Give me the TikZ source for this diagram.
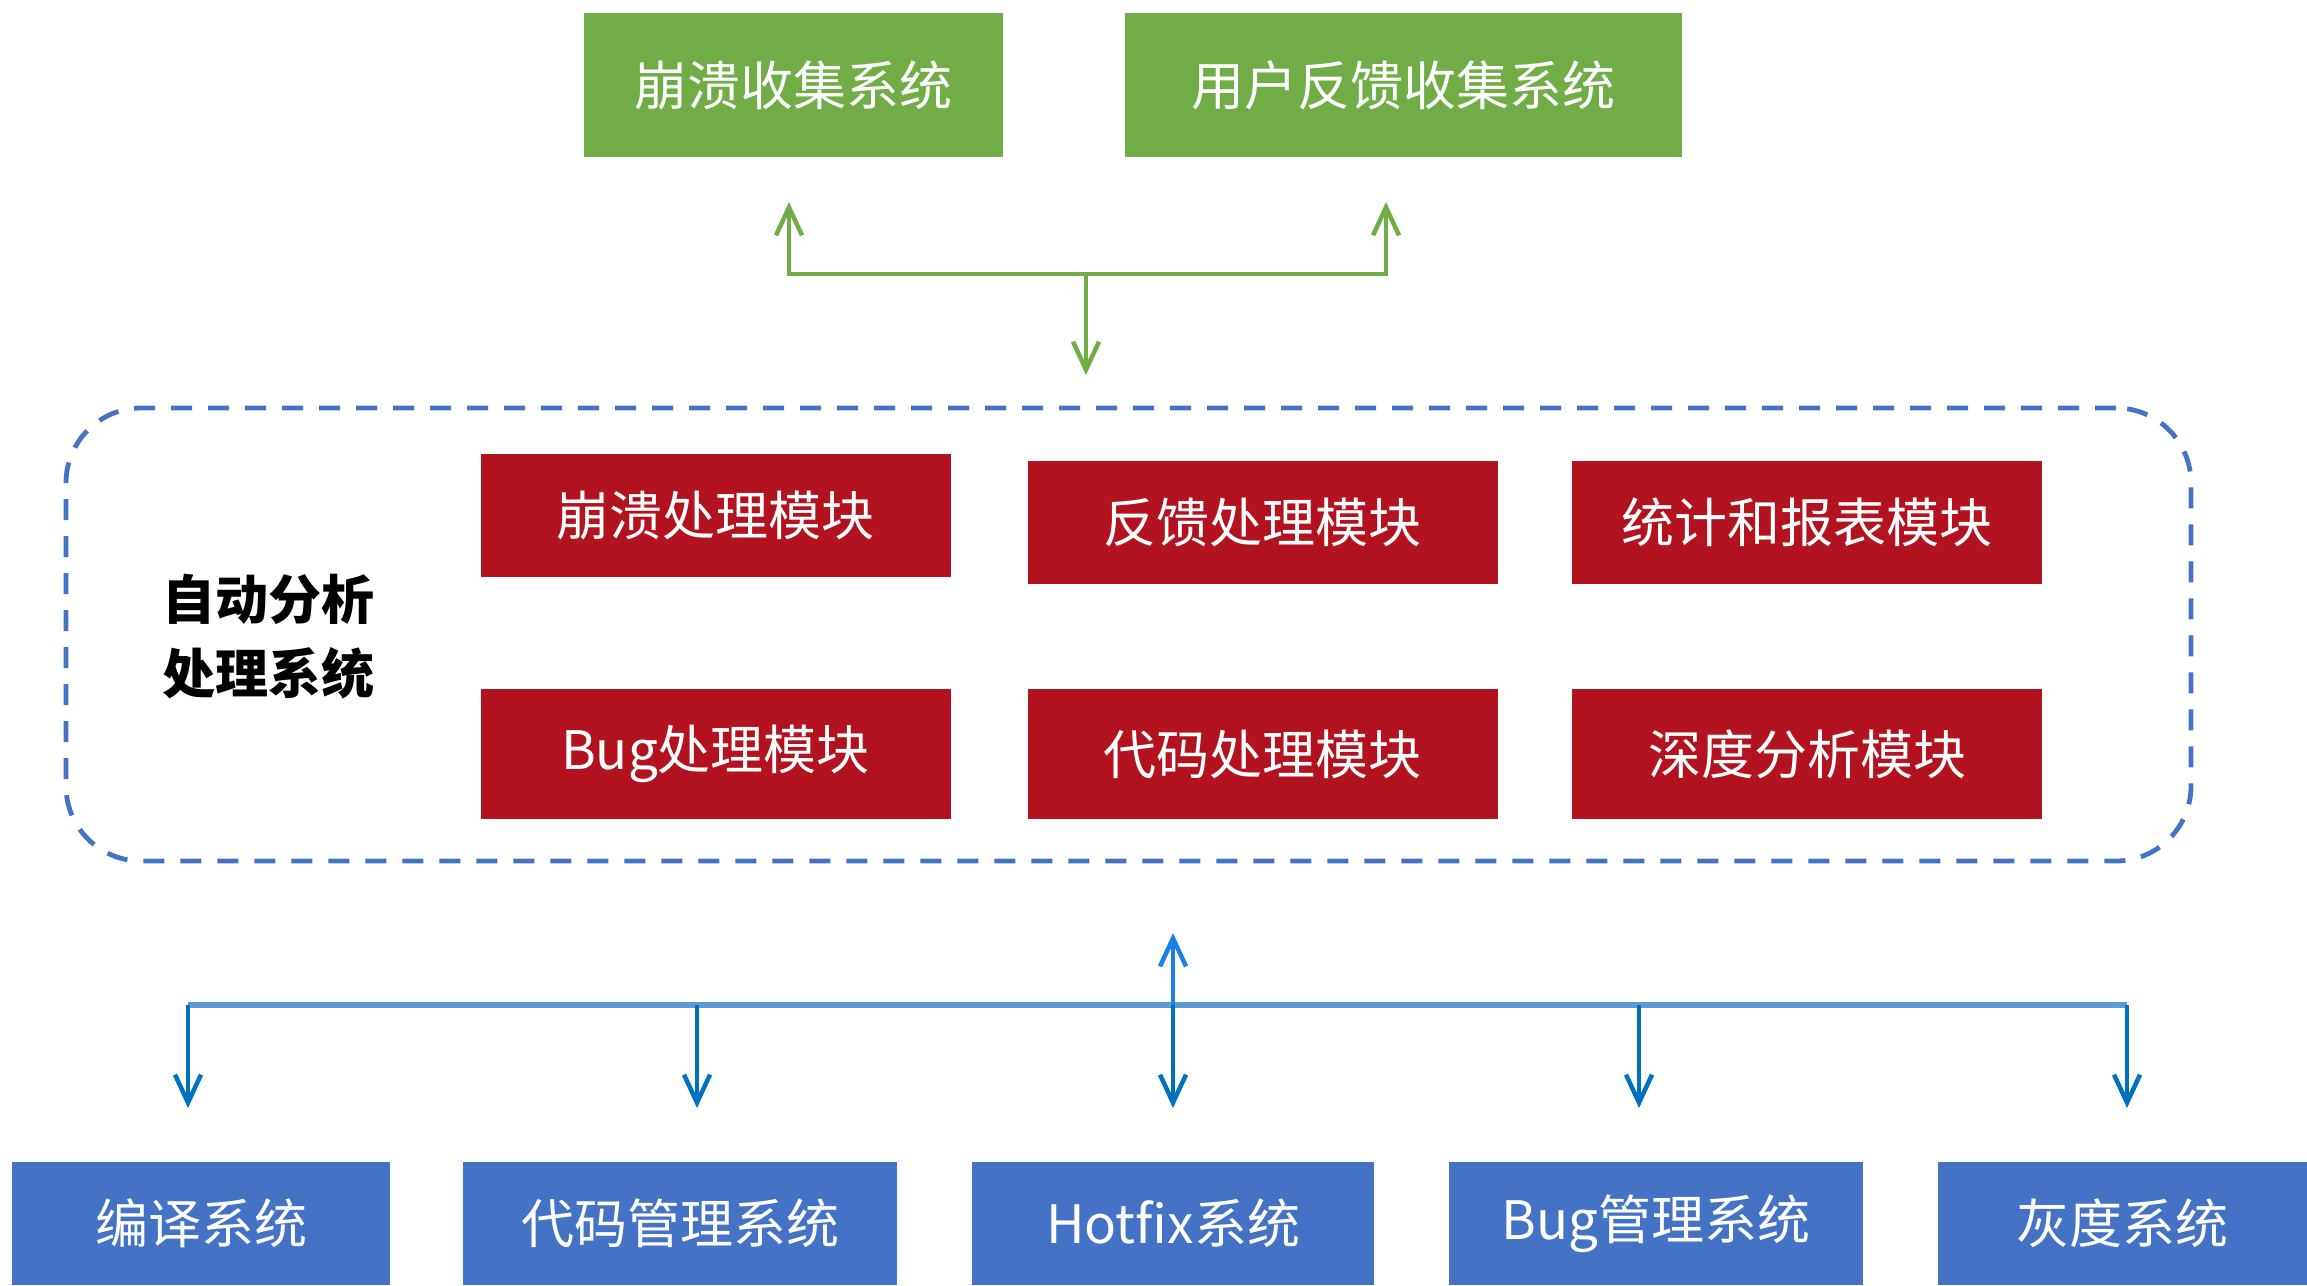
\documentclass[tikz,border=0pt]{standalone}
\usepackage{fontspec}
\setmainfont{Noto Sans CJK SC}
\usetikzlibrary{arrows.meta}
\definecolor{cgreen}{HTML}{70AD47}
\definecolor{cred}{HTML}{B2131F}
\definecolor{cblue}{HTML}{4472C4}
\definecolor{carrow}{HTML}{0070C0}
\definecolor{cbar}{HTML}{5B9BD5}
\definecolor{cup}{HTML}{1A7FE6}
\begin{document}
\begin{tikzpicture}[x=0.5pt,y=-0.5pt,
  boxtxt/.style={text=white,font=\fontsize{26.5pt}{32pt}\selectfont,inner sep=0pt,outer sep=0pt},
  gbox/.style={boxtxt,fill=cgreen,minimum height=72pt},
  rbox/.style={boxtxt,fill=cred,minimum width=235pt},
  bbox/.style={boxtxt,fill=cblue,minimum height=61.5pt},
  tip/.style={-{Straight Barb[length=14pt,width=13pt]}},
  dtip/.style={{Straight Barb[length=14pt,width=13pt]}-{Straight Barb[length=14pt,width=13pt]}},
  garr/.style={draw=cgreen,line width=2.25pt},
  barr/.style={draw=carrow,line width=2.25pt},
  panel/.style={draw=cblue,line width=2.4pt,dash pattern=on 10.5pt off 8pt,rounded corners=37.5pt,minimum width=1062.5pt,minimum height=226.5pt}
]
\useasboundingbox (0,0) rectangle (2307,1285);
% top systems
\node[gbox,minimum width=209.5pt] (crash) at (793.5,85) {崩溃收集系统};
\node[gbox,minimum width=278.5pt] (feedback) at (1403.5,85) {用户反馈收集系统};
% panel
\node[panel] (panelbox) at (1128.5,634.5) {};
\node[font=\fontsize{26.5pt}{37pt}\selectfont\bfseries,align=center,inner sep=0pt] (lbl) at (268,637) {自动分析\\处理系统};
\node[rbox,minimum height=61.5pt] (m1) at (715.5,515.5) {崩溃处理模块};
\node[rbox,minimum height=61.5pt] (m2) at (1262.5,522.5) {反馈处理模块};
\node[rbox,minimum height=61.5pt] (m3) at (1807,522.5) {统计和报表模块};
\node[rbox,minimum height=65pt] (m4) at (715.5,754) {Bug处理模块};
\node[rbox,minimum height=65pt] (m5) at (1262.5,754) {代码处理模块};
\node[rbox,minimum height=65pt] (m6) at (1807,754) {深度分析模块};
% bottom systems
\node[bbox,minimum width=189pt] (b1) at (201,1223.5) {编译系统};
\node[bbox,minimum width=217pt] (b2) at (680,1223.5) {代码管理系统};
\node[bbox,minimum width=201pt] (b3) at (1173,1223.5) {Hotfix系统};
\node[bbox,minimum width=207pt] (b4) at (1656,1223.5) {Bug管理系统};
\node[bbox,minimum width=184.5pt] (b5) at (2122.5,1223.5) {灰度系统};
% green connectors
\coordinate (gj) at (1086,274);
\coordinate (gl) at (789,202);
\coordinate (gr) at (1386,202);
\coordinate (gd) at (1086,375);
\draw[garr,dtip] (gl) |- (gj) -| (gr);
\draw[garr,tip] (gj) -- (gd);
% blue connectors
\coordinate (bl) at (188,1005);
\coordinate (br) at (2127,1005);
\coordinate (bj) at (1173,1005);
\coordinate (bup) at (1173,933);
\draw[draw=cbar,line width=2.75pt] (bl) -- (br);
\draw[draw=cup,line width=2.25pt,tip] (bj) -- (bup);
\foreach \x/\n in {188/1,697/2,1173/3,1639/4,2127/5}{
  \coordinate (s\n) at (\x,1005);
  \coordinate (e\n) at (\x,1108);
  \draw[barr,tip] (s\n) -- (e\n);
}
\end{tikzpicture}
\end{document}
